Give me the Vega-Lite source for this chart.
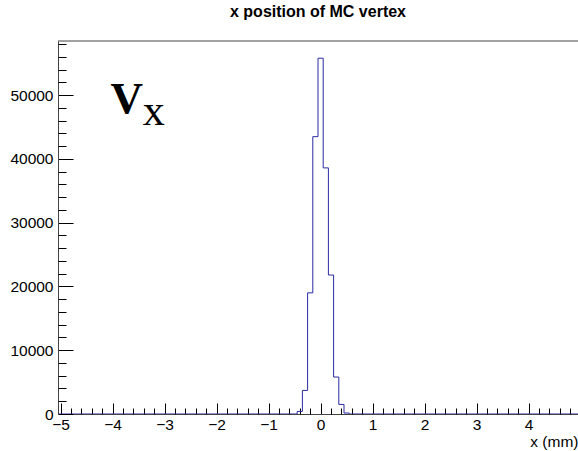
{
  "$schema": "https://vega.github.io/schema/vega-lite/v6.json",
  "width": 520,
  "height": 373,
  "autosize": {"type": "none"},
  "padding": {"left": 58, "top": 41, "right": 0, "bottom": 37},
  "background": "white",
  "config": {"view": {"stroke": null}, "font": "Liberation Sans"},
  "title": {"text": "x position of MC vertex", "font": "Liberation Sans", "fontSize": 16, "fontWeight": "bold", "anchor": "middle", "offset": 19, "color": "black"},
  "resolve": {"axis": {"x": "independent", "y": "independent"}, "scale": {"x": "shared", "y": "shared"}},
  "layer": [
    {
      "data": {"values": [
        {"x": -5.05, "count": 0},
        {"x": -0.45, "count": 400},
        {"x": -0.35, "count": 3700},
        {"x": -0.25, "count": 19000},
        {"x": -0.15, "count": 43500},
        {"x": -0.05, "count": 55800},
        {"x": 0.05, "count": 38600},
        {"x": 0.15, "count": 21800},
        {"x": 0.25, "count": 5800},
        {"x": 0.35, "count": 1500},
        {"x": 0.45, "count": 150},
        {"x": 0.55, "count": 0},
        {"x": 4.95, "count": 0}
      ]},
      "mark": {"type": "line", "interpolate": "step-after", "color": "#2a2aa5", "strokeWidth": 1, "clip": true},
      "encoding": {
        "x": {"field": "x", "type": "quantitative",
          "scale": {"domain": [-5.05, 4.95], "nice": false, "zero": false},
          "axis": {
            "orient": "bottom",
            "title": "x (mm)", "titleFont": "Liberation Sans", "titleFontSize": 15.5, "titleFontWeight": "normal", "titleColor": "black",
            "titleAnchor": "end", "titleAlign": "right", "titlePadding": 2,
            "values": [-5,-4,-3,-2,-1,0,1,2,3,4],
            "format": "d",
            "tickSize": -11,
            "tickColor": "black", "tickWidth": 1,
            "domainColor": "#444", "domainWidth": 1,
            "labelFont": "Liberation Sans", "labelFontSize": 15.5, "labelColor": "black", "labelPadding": 14,
            "labelFlush": false, "labelOverlap": false, "grid": false
          }
        },
        "y": {"field": "count", "type": "quantitative",
          "scale": {"domain": [0, 58500], "nice": false},
          "axis": {
            "orient": "left",
            "title": null,
            "values": [0,10000,20000,30000,40000,50000],
            "format": "d",
            "tickSize": -15,
            "tickColor": "black", "tickWidth": 1,
            "domainColor": "#444", "domainWidth": 1,
            "labelFont": "Liberation Sans", "labelFontSize": 15.5, "labelColor": "black", "labelPadding": 20,
            "labelFlush": false, "labelOverlap": false, "grid": false
          }
        }
      }
    },
    {
      "data": {"values": [{"x": -5.05, "count": 58500}, {"x": 4.95, "count": 58500}]},
      "mark": {"type": "line", "color": "#444", "strokeWidth": 1},
      "encoding": {
        "x": {"field": "x", "type": "quantitative",
          "axis": {
            "orient": "bottom", "title": null, "labels": false, "domain": false, "grid": false,
            "values": [-4.8,-4.6,-4.4,-4.2,-3.8,-3.6,-3.4,-3.2,-2.8,-2.6,-2.4,-2.2,-1.8,-1.6,-1.4,-1.2,-0.8,-0.6,-0.4,-0.2,0.2,0.4,0.6,0.8,1.2,1.4,1.6,1.8,2.2,2.4,2.6,2.8,3.2,3.4,3.6,3.8,4.2,4.4,4.6,4.8],
            "tickSize": -6, "tickColor": "black", "tickWidth": 1
          }
        },
        "y": {"field": "count", "type": "quantitative",
          "axis": {
            "orient": "left", "title": null, "labels": false, "domain": false, "grid": false,
            "values": [2000,4000,6000,8000,12000,14000,16000,18000,22000,24000,26000,28000,32000,34000,36000,38000,42000,44000,46000,48000,52000,54000,56000,58000],
            "tickSize": -8, "tickColor": "black", "tickWidth": 1
          }
        }
      }
    },
    {
      "data": {"values": [{"x": -4.04, "count": 47250, "t": "V"}]},
      "mark": {"type": "text", "font": "Liberation Serif", "fontWeight": "bold", "fontSize": 45, "align": "left", "baseline": "alphabetic", "color": "black"},
      "encoding": {
        "x": {"field": "x", "type": "quantitative", "axis": null},
        "y": {"field": "count", "type": "quantitative", "axis": null},
        "text": {"field": "t"}
      }
    },
    {
      "data": {"values": [{"x": -3.42, "count": 45330, "t": "x"}]},
      "mark": {"type": "text", "font": "Liberation Serif", "fontWeight": "normal", "fontSize": 44, "align": "left", "baseline": "alphabetic", "color": "black"},
      "encoding": {
        "x": {"field": "x", "type": "quantitative", "axis": null},
        "y": {"field": "count", "type": "quantitative", "axis": null},
        "text": {"field": "t"}
      }
    }
  ]
}
